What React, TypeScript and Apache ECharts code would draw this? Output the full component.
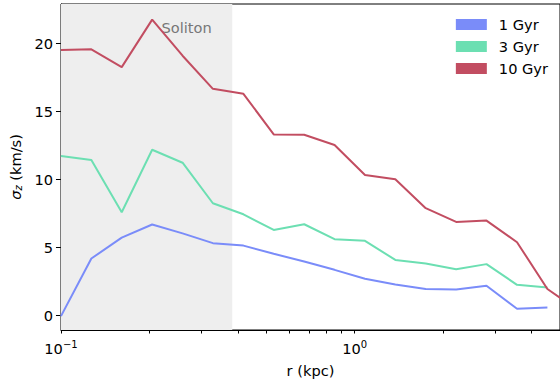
import React, { useEffect, useRef } from "react";
import * as echarts from "echarts";

const radii = [0.1, 0.1269, 0.161, 0.2044, 0.2594, 0.329, 0.418, 0.530, 0.673, 0.854, 1.084, 1.375, 1.745, 2.215, 2.81, 3.57, 4.53, 5.75];
const sigma1 = [-0.03, 4.2, 5.74, 6.7, 6.05, 5.33, 5.15, 4.55, 3.98, 3.37, 2.71, 2.3, 1.96, 1.93, 2.2, 0.51, 0.61];
const sigma3 = [11.73, 11.44, 7.6, 12.19, 11.24, 8.26, 7.45, 6.3, 6.72, 5.62, 5.5, 4.1, 3.84, 3.42, 3.79, 2.27, 2.08];
const sigma10 = [19.52, 19.57, 18.26, 21.75, 19.1, 16.67, 16.3, 13.32, 13.29, 12.54, 10.34, 10.02, 7.9, 6.89, 6.99, 5.4, 1.96, 0.4];
const seriesNames = ["1 Gyr", "3 Gyr", "10 Gyr"];
const colors = ["#7a8cf9", "#6cdfb2", "#c24d61"];
const solitonRange = [0.1, 0.383];
const xMajorTicks = [0.1, 1];
const xAllTicks = [0.1, 0.2, 0.3, 0.4, 0.5, 0.6, 0.7, 0.8, 0.9, 1, 2, 3, 4];
const yTicks = [0, 5, 10, 15, 20];

const FONT = "DejaVu Sans";
const FS = 14.6;

export default function App() {
  const ref = useRef<HTMLDivElement>(null);
  useEffect(() => {
    if (!ref.current) return;
    const chart = echarts.init(ref.current, undefined, { renderer: "svg" });
    const pair = (vals: number[]) => vals.map((v, i) => [radii[i], v]);
    const allSeries = [sigma1, sigma3, sigma10];
    chart.setOption({
      animation: false,
      backgroundColor: "#ffffff",
      grid: {
        left: 59,
        top: 4,
        width: 502,
        height: 326,
        show: true,
        borderColor: "#000",
        borderWidth: 1,
        backgroundColor: "transparent",
      },
      legend: {
        right: 12,
        top: 16,
        padding: 0,
        orient: "vertical",
        itemWidth: 31,
        itemHeight: 11,
        itemGap: 5,
        icon: "rect",
        data: seriesNames,
        textStyle: { fontFamily: FONT, fontSize: FS, lineHeight: 17, color: "#000", padding: [0, 0, 0, 7] },
      },
      xAxis: {
        type: "log",
        logBase: 10,
        min: 0.1,
        max: 5,
        position: "bottom",
        name: "r (kpc)",
        nameLocation: "middle",
        nameGap: 33,
        nameTextStyle: { fontFamily: FONT, fontSize: FS, color: "#000" },
        axisLine: { show: true, onZero: false, lineStyle: { color: "#000", width: 1 } },
        axisTick: { show: true, customValues: xAllTicks, length: 3.5, lineStyle: { color: "#000" } },
        axisLabel: {
          customValues: xMajorTicks,
          margin: 9,
          fontFamily: FONT,
          fontSize: FS,
          color: "#000",
          formatter: (v: number) => (v < 0.5 ? "{b|10}{s|−1}" : "{b|10}{s|0}"),
          rich: {
            b: { fontFamily: FONT, fontSize: FS, color: "#000" },
            s: { fontFamily: FONT, fontSize: 10, color: "#000", padding: [0, 0, 9, 0] },
          },
        },
        splitLine: { show: false },
        minorTick: { show: false },
      },
      yAxis: {
        type: "value",
        min: -1.05,
        max: 22.9,
        name: "{a|σ}{b|z}{c| (km/s)}",
        nameLocation: "middle",
        nameGap: 33,
        nameRotate: 90,
        nameTextStyle: {
          fontFamily: FONT,
          fontSize: FS,
          color: "#000",
          rich: {
            a: { fontFamily: FONT, fontSize: FS, fontStyle: "italic", color: "#000" },
            b: { fontFamily: FONT, fontSize: 10, fontStyle: "italic", color: "#000", padding: [6, 0, 0, 0] },
            c: { fontFamily: FONT, fontSize: FS, color: "#000" },
          },
        },
        axisLine: { show: true, onZero: false, lineStyle: { color: "#000", width: 1 } },
        axisTick: { show: true, customValues: yTicks, length: 5, lineStyle: { color: "#000" } },
        axisLabel: { customValues: yTicks, fontFamily: FONT, fontSize: FS, color: "#000", margin: 8 },
        splitLine: { show: false },
      },
      series: [
        ...allSeries.map((vals, i) => ({
          name: seriesNames[i],
          type: "line",
          data: pair(vals),
          showSymbol: false,
          symbol: "none",
          clip: true,
          z: 3,
          lineStyle: { color: colors[i], width: 2 },
          itemStyle: { color: colors[i] },
          markArea:
            i === 0
              ? {
                  silent: true,
                  itemStyle: { color: "#eeeeee" },
                  label: {
                    show: true,
                    position: "insideTop",
                    distance: 0,
                    offset: [40, 16],
                    formatter: "Soliton",
                    fontFamily: FONT,
                    fontSize: FS,
                    color: "#777777",
                  },
                  data: [[{ xAxis: solitonRange[0] }, { xAxis: solitonRange[1] }]],
                }
              : undefined,
        })),
      ],
    });
    return () => chart.dispose();
  }, []);
  return (
    <div
      ref={ref}
      style={{ position: "absolute", left: 0, top: 0, width: 560, height: 383 }}
    />
  );
}
